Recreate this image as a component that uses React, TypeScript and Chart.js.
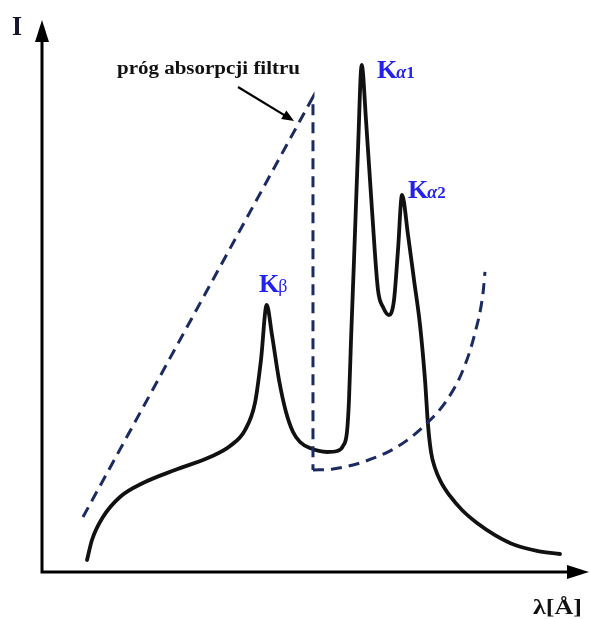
import React, { useEffect, useRef } from "react";
import { Chart, registerables } from "chart.js";

Chart.register(...registerables);

// Emission spectrum (arbitrary units: wavelength 0..100, intensity 0..100)
const spectrumLambda = [
  8.26, 9.17, 11.19, 14.31, 18.53, 24.4, 30.83, 34.5, 37.25, 39.08, 40.18, 41.23,
  42.2, 43.49, 44.77, 46.06, 47.34, 49.17, 52.29, 54.13, 55.23, 55.96, 56.33, 56.7,
  57.25, 57.98, 58.66, 59.45, 60.55, 61.65, 62.57, 63.67, 64.59, 65.32, 66.06, 67.16,
  68.26, 69.36, 70.28, 70.83, 71.38, 72.11, 73.21, 74.86, 77.06, 79.82, 83.12, 86.79,
  91.01, 95.05,
];
const spectrumIntensity = [
  2.17, 5.8, 9.96, 13.59, 16.12, 18.48, 20.83, 22.83, 25.72, 30.62, 38.41, 48.37,
  42.93, 34.78, 28.99, 25.36, 23.55, 22.46, 21.74, 21.92, 22.83, 25.36, 31.16, 42.03,
  56.52, 76.45, 91.85, 81.88, 65.58, 51.09, 48.01, 46.56, 49.28, 58.33, 68.3, 61.05,
  52.9, 44.75, 34.78, 26.63, 21.74, 18.84, 16.3, 13.77, 11.23, 8.88, 6.7, 4.89,
  3.8, 3.26,
];

// Filter absorption (dashed): rising edge, the absorption jump, then the curve after it
const edgeLambda = [7.52, 49.72, 49.72];
const edgeValue = [9.96, 86.05, 18.48];
const absLambda = [49.72, 53.39, 58.9, 65.14, 69.91, 74.31, 77.25, 79.45, 80.92, 81.28];
const absValue = [18.48, 18.66, 19.93, 22.64, 26.27, 31.16, 36.59, 43.3, 50.54, 54.35];

const yAxisTitle = "I";
const xAxisTitle = "λ[Å]";
const edgeNote = "próg absorpcji filtru";
const lineKa1 = ["K", "α", "1"];
const lineKa2 = ["K", "α", "2"];
const lineKb = ["K", "β"];

const BLUE = "#2222ee";
const NAVY = "#1b2a60";
const SERIF = "'Liberation Serif', 'DejaVu Serif', serif";

const toPts = (xs: number[], ys: number[]) => xs.map((x, i) => ({ x, y: ys[i] }));

function fitText(ctx: CanvasRenderingContext2D, text: string, x: number, y: number, width: number) {
  const w = ctx.measureText(text).width;
  ctx.save();
  ctx.translate(x, y);
  ctx.scale(width / w, 1);
  ctx.fillText(text, 0, 0);
  ctx.restore();
}

const decorPlugin = {
  id: "decor",
  afterDatasetsDraw(chart: any) {
    const ctx: CanvasRenderingContext2D = chart.ctx;
    const xs = chart.scales.x;
    const ys = chart.scales.y;
    const ox = xs.getPixelForValue(0);
    const oy = ys.getPixelForValue(0);
    const top = ys.getPixelForValue(100);
    const right = xs.getPixelForValue(100);
    ctx.save();
    // axes
    ctx.strokeStyle = "#000";
    ctx.fillStyle = "#000";
    ctx.lineWidth = 3;
    ctx.beginPath();
    ctx.moveTo(ox, oy + 1.5);
    ctx.lineTo(ox, top + 18);
    ctx.moveTo(ox - 1.5, oy);
    ctx.lineTo(right - 16, oy);
    ctx.stroke();
    ctx.beginPath();
    ctx.moveTo(ox, top);
    ctx.lineTo(ox - 7, top + 22);
    ctx.lineTo(ox + 7, top + 22);
    ctx.closePath();
    ctx.fill();
    ctx.beginPath();
    ctx.moveTo(right + 2, oy);
    ctx.lineTo(right - 20, oy - 7);
    ctx.lineTo(right - 20, oy + 7);
    ctx.closePath();
    ctx.fill();

    // axis titles
    ctx.fillStyle = "#16162a";
    ctx.textBaseline = "alphabetic";
    ctx.font = `bold 28px ${SERIF}`;
    fitText(ctx, yAxisTitle, 12, 35, 10);
    ctx.fillStyle = "#111";
    ctx.font = `bold 22px ${SERIF}`;
    fitText(ctx, xAxisTitle, 533, 614, 49);

    // absorption edge note + arrow
    ctx.font = `bold 18px ${SERIF}`;
    fitText(ctx, edgeNote, 117, 74, 183);
    ctx.strokeStyle = "#000";
    ctx.lineWidth = 2.2;
    const ax0 = 238, ay0 = 87, ax1 = 294, ay1 = 121;
    const ang = Math.atan2(ay1 - ay0, ax1 - ax0);
    ctx.beginPath();
    ctx.moveTo(ax0, ay0);
    ctx.lineTo(ax1 - 8 * Math.cos(ang), ay1 - 8 * Math.sin(ang));
    ctx.stroke();
    ctx.beginPath();
    ctx.moveTo(ax1, ay1);
    ctx.lineTo(ax1 - 12 * Math.cos(ang) + 5 * Math.sin(ang), ay1 - 12 * Math.sin(ang) - 5 * Math.cos(ang));
    ctx.lineTo(ax1 - 12 * Math.cos(ang) - 5 * Math.sin(ang), ay1 - 12 * Math.sin(ang) + 5 * Math.cos(ang));
    ctx.closePath();
    ctx.fillStyle = "#000";
    ctx.fill();

    // line labels
    ctx.fillStyle = BLUE;
    const drawK = (parts: string[], x: number, y: number) => {
      ctx.font = `bold 26px ${SERIF}`;
      ctx.fillText(parts[0], x, y);
      let cx = x + ctx.measureText(parts[0]).width - 1;
      if (parts.length === 3) {
        ctx.font = `italic bold 18px ${SERIF}`;
        ctx.fillText(parts[1], cx, y);
        cx += ctx.measureText(parts[1]).width;
        ctx.font = `bold 17px ${SERIF}`;
        ctx.fillText(parts[2], cx, y);
      } else {
        ctx.font = `18px ${SERIF}`;
        ctx.fillText(parts[1], cx, y);
      }
    };
    drawK(lineKa1, 377, 78);
    drawK(lineKa2, 408, 198);
    drawK(lineKb, 259, 292);
    ctx.restore();
  },
};

export default function App() {
  const ref = useRef<HTMLCanvasElement | null>(null);
  useEffect(() => {
    if (!ref.current) return;
    const chart = new Chart(ref.current, {
      type: "scatter",
      data: {
        datasets: [
          {
            data: toPts(edgeLambda, edgeValue),
            showLine: true,
            borderColor: NAVY,
            borderWidth: 3,
            borderDash: [11, 7],
            pointRadius: 0,
            tension: 0,
            clip: false,
          } as any,
          {
            data: toPts(absLambda, absValue),
            showLine: true,
            borderColor: NAVY,
            borderWidth: 3,
            borderDash: [11, 7],
            pointRadius: 0,
            cubicInterpolationMode: "monotone",
            clip: false,
          } as any,
          {
            data: toPts(spectrumLambda, spectrumIntensity),
            showLine: true,
            borderColor: "#111",
            borderWidth: 3.8,
            borderCapStyle: "round",
            borderJoinStyle: "round",
            pointRadius: 0,
            cubicInterpolationMode: "monotone",
            clip: false,
          } as any,
        ],
      },
      options: {
        animation: false,
        responsive: false,
        devicePixelRatio: 1,
        layout: { padding: { left: 42, right: 3, top: 20, bottom: 47 } },
        scales: {
          x: { type: "linear", min: 0, max: 100, display: false },
          y: { type: "linear", min: 0, max: 100, display: false },
        },
        plugins: { legend: { display: false }, tooltip: { enabled: false } },
      },
      plugins: [decorPlugin],
    });
    return () => chart.destroy();
  }, []);
  return (
    <div style={{ position: "absolute", left: 0, top: 0, width: 590, height: 619, background: "#fff" }}>
      <canvas ref={ref} width={590} height={619} style={{ width: 590, height: 619, display: "block" }} />
    </div>
  );
}
